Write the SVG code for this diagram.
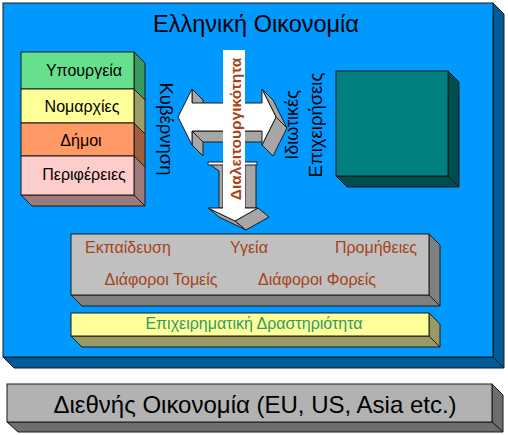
<svg xmlns="http://www.w3.org/2000/svg" width="508" height="435" viewBox="0 0 508 435">
<style>
  .s{stroke:#1a1a1a;stroke-width:1;stroke-linejoin:miter}
  .t{font-family:"Liberation Sans",Arial,sans-serif;fill:#000}
  .br{fill:#A5441A}
  .grey{fill:#A6A6A6;stroke:#1a1a1a;stroke-width:1}
  .wh{fill:#ffffff;stroke:#1a1a1a;stroke-width:1}
</style>
<rect width="508" height="435" fill="#ffffff"/>

<g id="greek-economy">
  <polygon class="s" fill="#005C99" points="493,3 504,14 504,368 493,357"/>
  <polygon class="s" fill="#005C99" points="3,357 493,357 504,368 14,368"/>
  <rect class="s" x="3" y="3" width="490" height="354" fill="#0099FF"/>
  <text class="t" x="256" y="32" font-size="23.5" text-anchor="middle">Ελληνική Οικονομία</text>
</g>

<g id="government-stack">
  <polygon class="s" fill="#3A9A5E" points="134,52 145,63 145,100 134,89"/>
  <polygon class="s" fill="#9E9E66" points="134,89 145,100 145,134 134,123"/>
  <polygon class="s" fill="#A0603E" points="134,123 145,134 145,167 134,156"/>
  <polygon class="s" fill="#9E7A7A" points="134,156 145,167 145,206 134,195"/>
  <polygon class="s" fill="#9E7A7A" points="21,195 134,195 145,206 32,206"/>
  <rect class="s" x="21" y="52" width="113" height="37" fill="#66E08C"/>
  <rect class="s" x="21" y="89" width="113" height="34" fill="#FFFF99"/>
  <rect class="s" x="21" y="123" width="113" height="33" fill="#FF9966"/>
  <rect class="s" x="21" y="156" width="113" height="39" fill="#FFCCCC"/>
  <text class="t" x="84" y="76" font-size="16" text-anchor="middle">Υπουργεία</text>
  <text class="t" x="82" y="112" font-size="16" text-anchor="middle">Νομαρχίες</text>
  <text class="t" x="81" y="146" font-size="16" text-anchor="middle">Δήμοι</text>
  <text class="t" x="84" y="180" font-size="16" text-anchor="middle">Περιφέρειες</text>
</g>

<g id="label-government">
  <text class="t" font-size="18.5" text-anchor="middle" transform="translate(160,129) rotate(90)">Κυβέρνηση</text>
</g>

<g id="label-private">
  <text class="t" font-size="18" text-anchor="middle" transform="translate(298,125) rotate(-90)">Ιδιωτικές</text>
  <text class="t" font-size="18.5" text-anchor="middle" transform="translate(322,125) rotate(-90)">Επιχειρήσεις</text>
</g>

<g id="private-box">
  <polygon class="s" fill="#004D4D" points="448,71 459,82 459,187 448,176"/>
  <polygon class="s" fill="#004D4D" points="336,176 448,176 459,187 347,187"/>
  <rect class="s" x="336" y="71" width="112" height="105" fill="#008080"/>
</g>

<g id="connectors">
  <polygon class="grey" points="192,89 203,100 203,114 192,103"/>
  <polygon class="grey" points="192,131 262,131 273,142 203,142"/>
  <polygon class="grey" points="192,131 203,142 203,156 192,145"/>
  <polygon class="grey" points="262,89 273,100 287,128 276,117"/>
  <polygon class="grey" points="276,117 287,128 273,156 262,145"/>
  <polygon class="wh" points="178,117 192,89 192,103 262,103 262,89 276,117 262,145 262,131 192,131 192,145"/>
  <polygon class="grey" points="208,163 219,171 219,208 223,208 223,163"/>
  <polygon class="grey" points="245,164 256,164 256,208 245,208"/>
  <polygon class="wh" points="208,162 257,162 257,165 208,165"/>
  <polygon class="grey" points="208,208 235,221 246,230 219,217"/>
  <polygon class="grey" points="235,221 258,208 269,217 246,230"/>
  <polygon class="wh" points="208,208 258,208 235,221"/>
  <rect x="223" y="50" width="22" height="159.5" fill="#ffffff"/>
  <text font-family="'Liberation Sans',Arial,sans-serif" font-weight="bold" font-size="15.5" class="br" text-anchor="middle" transform="translate(241,129) rotate(-90)">Διαλειτουργικότητα</text>
</g>

<g id="sectors">
  <polygon class="s" fill="#808080" points="429,234 440,245 440,306 429,295"/>
  <polygon class="s" fill="#808080" points="71,295 429,295 440,306 82,306"/>
  <rect class="s" x="71" y="234" width="358" height="61" fill="#C0C0C0"/>
  <text class="t br" x="85" y="253" font-size="16">Εκπαίδευση</text>
  <text class="t br" x="249" y="253" font-size="16" text-anchor="middle">Υγεία</text>
  <text class="t br" x="376" y="253" font-size="16" text-anchor="middle">Προμήθειες</text>
  <text class="t br" x="161" y="285" font-size="16" text-anchor="middle">Διάφοροι Τομείς</text>
  <text class="t br" x="317" y="285" font-size="16" text-anchor="middle">Διάφοροι Φορείς</text>
</g>

<g id="business">
  <polygon class="s" fill="#999966" points="429,313 440,324 440,347 429,336"/>
  <polygon class="s" fill="#999966" points="71,336 429,336 440,347 82,347"/>
  <rect class="s" x="71" y="313" width="358" height="23" fill="#FFFF99"/>
  <text class="t" x="254" y="329" font-size="16" text-anchor="middle" style="fill:#339966">Επιχειρηματική Δραστηριότητα</text>
</g>

<g id="international">
  <polygon class="s" fill="#6E6E6E" points="492,384 503,395 503,432 492,422"/>
  <polygon class="s" fill="#6E6E6E" points="7,422 492,422 503,432 18,432"/>
  <rect class="s" x="7" y="384" width="485" height="38" fill="#B2B2B2"/>
  <text class="t" x="255" y="413" font-size="24" text-anchor="middle">Διεθνής Οικονομία (EU, US, Asia etc.)</text>
</g>
</svg>
